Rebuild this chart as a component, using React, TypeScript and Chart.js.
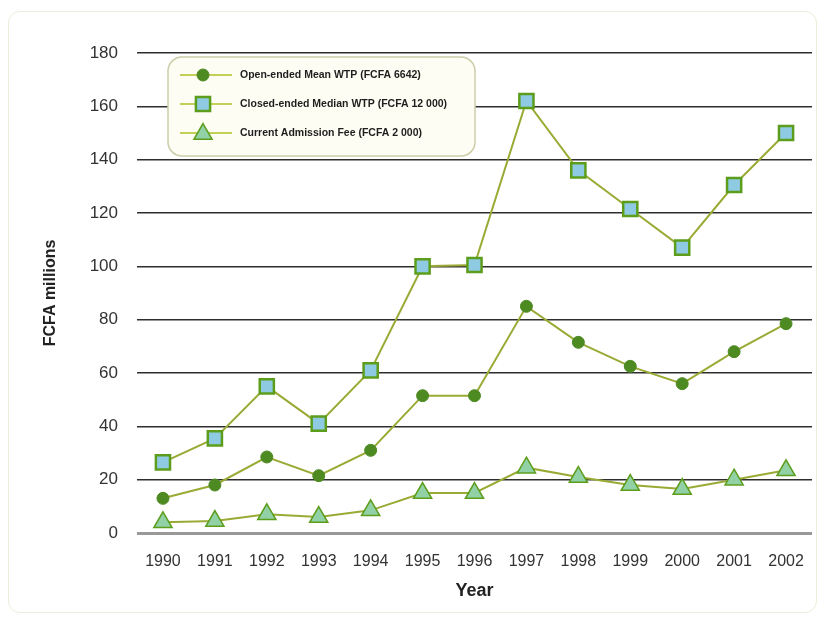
import React, { useEffect, useRef } from "react";
import { Chart, registerables } from "chart.js";

Chart.register(...registerables);

const years = ["1990", "1991", "1992", "1993", "1994", "1995", "1996", "1997", "1998", "1999", "2000", "2001", "2002"];
const openEndedMean = [13, 18, 28.5, 21.5, 31, 51.5, 51.5, 85, 71.5, 62.5, 56, 68, 78.5];
const closedEndedMedian = [26.5, 35.5, 55, 41, 61, 100, 100.5, 162, 136, 121.5, 107, 130.5, 150];
const admissionFee = [4, 4.5, 7, 6, 8.5, 15, 15, 24.5, 21, 18, 16.5, 20, 23.5];
const seriesLabels = [
  "Open-ended Mean WTP (FCFA 6642)",
  "Closed-ended Median WTP (FCFA 12 000)",
  "Current Admission Fee (FCFA 2 000)",
];
const yTicks = [0, 20, 40, 60, 80, 100, 120, 140, 160, 180];

const LINE = "#9aaa34";
const DARK_GREEN = "#4e8a22";
const BORDER_GREEN = "#5c9e1c";

function drawMarker(ctx: CanvasRenderingContext2D, style: string, x: number, y: number, r: number, fill: string, stroke: string, lw: number) {
  ctx.save();
  ctx.fillStyle = fill;
  ctx.strokeStyle = stroke;
  ctx.lineWidth = lw;
  ctx.beginPath();
  if (style === "circle") {
    ctx.arc(x, y, r, 0, Math.PI * 2);
  } else if (style === "rect") {
    const s = r * Math.SQRT1_2 * 2;
    ctx.rect(x - s / 2, y - s / 2, s, s);
  } else {
    for (let k = 0; k < 3; k++) {
      const a = -Math.PI / 2 + (k * 2 * Math.PI) / 3;
      const px = x + Math.cos(a) * r;
      const py = y + Math.sin(a) * r;
      if (k === 0) ctx.moveTo(px, py);
      else ctx.lineTo(px, py);
    }
    ctx.closePath();
  }
  ctx.fill();
  ctx.stroke();
  ctx.restore();
}

const legendPlugin = {
  id: "customLegend",
  afterDraw(chart: any) {
    const { ctx, chartArea } = chart;
    const x = chartArea.left + 31;
    const y = chartArea.top + 4;
    const w = 307;
    const h = 99;
    ctx.save();
    ctx.beginPath();
    (ctx as any).roundRect(x, y, w, h, 14);
    ctx.fillStyle = "#fdfdf3";
    ctx.fill();
    ctx.lineWidth = 1.5;
    ctx.strokeStyle = "#cdcdaa";
    ctx.stroke();
    chart.data.datasets.forEach((ds: any, i: number) => {
      const cy = y + 18 + i * 29;
      ctx.beginPath();
      ctx.moveTo(x + 12, cy);
      ctx.lineTo(x + 64, cy);
      ctx.strokeStyle = "#c4cf5a";
      ctx.lineWidth = 2;
      ctx.stroke();
      drawMarker(ctx, ds.pointStyle, x + 35, ds.pointStyle === "triangle" ? cy + 1 : cy, ds.pointRadius, ds.pointBackgroundColor, ds.pointBorderColor, ds.pointBorderWidth);
      ctx.fillStyle = "#1e1e1e";
      ctx.font = "bold 10.5px 'Liberation Sans', Arial, sans-serif";
      ctx.textBaseline = "middle";
      ctx.textAlign = "left";
      ctx.fillText(ds.label, x + 72, cy + 0.5);
    });
    ctx.restore();
  },
};

export default function App() {
  const canvasRef = useRef<HTMLCanvasElement | null>(null);

  useEffect(() => {
    if (!canvasRef.current) return;
    const chart = new Chart(canvasRef.current, {
      type: "line",
      data: {
        labels: years,
        datasets: [
          {
            label: seriesLabels[0],
            data: openEndedMean,
            borderColor: LINE,
            borderWidth: 2,
            pointStyle: "circle",
            pointRadius: 6,
            pointBackgroundColor: DARK_GREEN,
            pointBorderColor: DARK_GREEN,
            pointBorderWidth: 1,
            tension: 0,
          } as any,
          {
            label: seriesLabels[1],
            data: closedEndedMedian,
            borderColor: LINE,
            borderWidth: 2,
            pointStyle: "rect",
            pointRadius: 10,
            pointBackgroundColor: "#8ecbe2",
            pointBorderColor: BORDER_GREEN,
            pointBorderWidth: 2.5,
            tension: 0,
          } as any,
          {
            label: seriesLabels[2],
            data: admissionFee,
            borderColor: LINE,
            borderWidth: 2,
            pointStyle: "triangle",
            pointRadius: 10.5,
            pointBackgroundColor: "#92d0a6",
            pointBorderColor: BORDER_GREEN,
            pointBorderWidth: 1.5,
            tension: 0,
          } as any,
        ],
      },
      options: {
        responsive: false,
        animation: false,
        layout: { autoPadding: false, padding: { top: 45, right: 5, left: 0, bottom: 0 } },
        plugins: {
          legend: { display: false },
          tooltip: { enabled: false },
        },
        scales: {
          x: {
            offset: true,
            grid: { display: false, drawTicks: false },
            border: { display: false },
            ticks: {
              color: "#333",
              font: { size: 16, family: "'Liberation Sans', Arial, sans-serif" },
              padding: 19,
              maxRotation: 0,
              autoSkip: false,
            },
            title: {
              display: true,
              text: "Year",
              color: "#222",
              font: { size: 18, weight: "bold", family: "'Liberation Sans', Arial, sans-serif" },
              padding: { top: 0, bottom: 11 },
            },
            afterFit: (s: any) => {
              s.height = 80;
              s.paddingLeft = 0;
              s.paddingRight = 0;
            },
          },
          y: {
            min: 0,
            max: 180,
            afterBuildTicks: (s: any) => {
              s.ticks = yTicks.map((v) => ({ value: v }));
            },
            grid: {
              drawTicks: false,
              color: (c: any) => (c.tick && c.tick.value === 0 ? "#999999" : "#2e2e2e"),
              lineWidth: (c: any) => (c.tick && c.tick.value === 0 ? 3 : 1.5),
            },
            border: { display: false },
            ticks: {
              color: "#333",
              font: { size: 17, family: "'Liberation Sans', Arial, sans-serif" },
              padding: 19,
            },
            title: {
              display: true,
              text: "FCFA millions",
              color: "#222",
              font: { size: 16, weight: "bold", family: "'Liberation Sans', Arial, sans-serif" },
              padding: { top: 33, bottom: 0 },
            },
            afterFit: (s: any) => {
              s.width = 129;
              s.paddingTop = 0;
              s.paddingBottom = 0;
            },
          },
        },
      },
      plugins: [legendPlugin],
    });
    return () => chart.destroy();
  }, []);

  return (
    <div style={{ position: "relative", width: 809, height: 605 }}>
      <div
        style={{
          position: "absolute",
          left: 0,
          top: 3,
          width: 809,
          height: 602,
          border: "1px solid #eeedda",
          borderRadius: 12,
          boxSizing: "border-box",
        }}
      />
      <canvas ref={canvasRef} width={809} height={605} style={{ position: "absolute", left: 0, top: 0 }} />
    </div>
  );
}
